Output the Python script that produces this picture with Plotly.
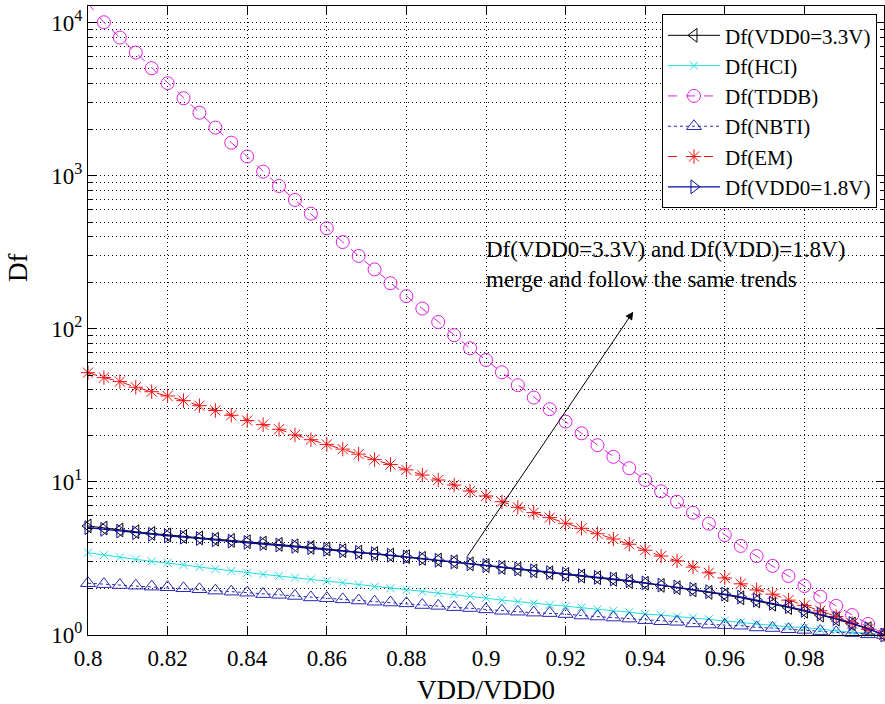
import plotly.graph_objects as go
import math

# ---------------- data ----------------
vdd_ratio = [round(0.8 + 0.004 * i, 3) for i in range(51)]

df_vdd0_33 = [5.16, 5.00, 4.86, 4.73, 4.61, 4.50, 4.40, 4.31, 4.23, 4.15,
              4.07, 3.99, 3.91, 3.83, 3.74, 3.65, 3.56, 3.48, 3.41, 3.33,
              3.25, 3.17, 3.09, 3.01, 2.92, 2.84, 2.76, 2.69, 2.62, 2.55,
              2.49, 2.43, 2.37, 2.31, 2.24, 2.18, 2.11, 2.04, 1.97, 1.90,
              1.83, 1.75, 1.67, 1.59, 1.51, 1.43, 1.35, 1.27, 1.18, 1.10, 1.00]

df_hci = [3.45, 3.33, 3.22, 3.12, 3.03, 2.96, 2.87, 2.78, 2.70, 2.62,
          2.55, 2.49, 2.43, 2.37, 2.31, 2.25, 2.20, 2.13, 2.07, 2.02,
          1.97, 1.92, 1.88, 1.84, 1.80, 1.74, 1.69, 1.65, 1.61, 1.57,
          1.54, 1.51, 1.47, 1.44, 1.41, 1.37, 1.35, 1.32, 1.30, 1.27,
          1.24, 1.21, 1.19, 1.16, 1.13, 1.12, 1.09, 1.07, 1.04, 1.03, 1.00]

df_tddb = [13400, 10100, 8020, 6400, 5060, 4040, 3220, 2590, 2070, 1650,
           1340, 1067, 860, 697, 567, 455, 370, 300, 245, 199,
           164, 136, 111, 91, 74.8, 62.7, 52.1, 42.9, 35.6, 29.9,
           24.8, 20.8, 17.4, 14.6, 12.3, 10.3, 8.69, 7.43, 6.30, 5.34,
           4.50, 3.82, 3.28, 2.83, 2.43, 2.09, 1.78, 1.55, 1.35, 1.18, 1.00]

df_nbti = [2.18, 2.15, 2.12, 2.10, 2.07, 2.05, 2.02, 1.99, 1.95, 1.92,
           1.89, 1.85, 1.83, 1.80, 1.76, 1.74, 1.71, 1.68, 1.65, 1.63,
           1.61, 1.57, 1.55, 1.52, 1.50, 1.47, 1.44, 1.42, 1.40, 1.39,
           1.37, 1.34, 1.32, 1.30, 1.28, 1.25, 1.23, 1.22, 1.19, 1.17,
           1.16, 1.15, 1.12, 1.11, 1.09, 1.08, 1.06, 1.04, 1.03, 1.01, 1.00]

df_em = [51.8, 48.1, 45.3, 41.6, 38.9, 36.5, 34.0, 31.5, 29.3, 27.3,
         25.2, 23.7, 22.1, 20.3, 18.9, 17.6, 16.4, 15.2, 14.0, 13.0,
         12.0, 11.1, 10.3, 9.55, 8.73, 8.10, 7.43, 6.83, 6.31, 5.85,
         5.37, 4.98, 4.59, 4.24, 3.92, 3.58, 3.28, 3.05, 2.78, 2.55,
         2.36, 2.16, 1.97, 1.85, 1.69, 1.56, 1.44, 1.32, 1.19, 1.09, 1.00]

df_vdd0_18 = [5.03, 4.90, 4.78, 4.66, 4.55, 4.45, 4.36, 4.27, 4.19, 4.11,
              4.03, 3.96, 3.88, 3.80, 3.72, 3.63, 3.55, 3.47, 3.40, 3.32,
              3.24, 3.16, 3.08, 3.00, 2.92, 2.84, 2.77, 2.70, 2.63, 2.56,
              2.50, 2.44, 2.38, 2.32, 2.26, 2.19, 2.12, 2.06, 1.99, 1.92,
              1.85, 1.77, 1.69, 1.61, 1.53, 1.45, 1.37, 1.28, 1.19, 1.10, 1.00]

x_ticks = [0.8, 0.82, 0.84, 0.86, 0.88, 0.9, 0.92, 0.94, 0.96, 0.98, 1.0]
x_tick_labels = ["0.8", "0.82", "0.84", "0.86", "0.88", "0.9", "0.92", "0.94", "0.96", "0.98", "1"]
y_ticks = [1, 10, 100, 1000, 10000]
y_tick_labels = ["10<sup>0</sup>", "10<sup>1</sup>", "10<sup>2</sup>", "10<sup>3</sup>", "10<sup>4</sup>"]
y_top = 12900

FONT = "Liberation Serif"
GRID_DASH = "1px,3px"

minor_y = [m * 10 ** k for k in range(0, 5) for m in range(2, 10) if m * 10 ** k < y_top]

fig = go.Figure()

def add(name, y, color, symbol, size, dash, width=1.0, clip=False):
    fig.add_trace(go.Scatter(
        x=vdd_ratio, y=y, name=name, mode="lines+markers",
        line=dict(color=color, width=width, dash=dash),
        marker=dict(symbol=symbol, size=size, color=color,
                    line=dict(color=color, width=1)),
        cliponaxis=clip,
    ))

add("Df(VDD0=3.3V)", df_vdd0_33, "black", "triangle-left-open", 12, "solid")
add("Df(HCI)", df_hci, "#22dede", "x-thin-open", 8, "solid")
add("Df(TDDB)", df_tddb, "#e020e0", "circle-open", 13, "dash", clip=True)
add("Df(NBTI)", df_nbti, "#2828b0", "triangle-up-open", 13, "dot")
add("Df(EM)", df_em, "#ee1111", "asterisk-open", 12, "dash")
add("Df(VDD0=1.8V)", df_vdd0_18, "#0a0a9a", "triangle-right-open", 12, "solid", width=1.4)

fig.update_layout(
    width=885, height=704,
    margin=dict(l=88, r=1, t=6, b=69),
    paper_bgcolor="white", plot_bgcolor="white",
    font=dict(family=FONT, size=22, color="black"),
    showlegend=True,
    legend=dict(
        x=0.9912, y=0.987, xanchor="right", yanchor="top",
        bgcolor="white", bordercolor="black", borderwidth=1,
        font=dict(family=FONT, size=21, color="black"),
        tracegroupgap=0, itemwidth=52,
    ),
    xaxis=dict(
        range=[0.8, 1.0], tickmode="array", tickvals=x_ticks, ticktext=x_tick_labels,
        ticks="inside", ticklen=8, tickcolor="black", mirror="ticks",
        showline=True, linecolor="black", linewidth=1,
        showgrid=True, gridcolor="black", griddash=GRID_DASH, gridwidth=1,
        zeroline=False, ticklabelstandoff=2, automargin=False,
        tickfont=dict(family=FONT, size=23, color="black"),
    ),
    yaxis=dict(
        type="log", range=[0, math.log10(y_top)],
        tickmode="array", tickvals=y_ticks, ticktext=y_tick_labels,
        ticks="inside", ticklen=8, tickcolor="black", mirror="ticks",
        showline=True, linecolor="black", linewidth=1,
        showgrid=True, gridcolor="black", griddash=GRID_DASH, gridwidth=1,
        zeroline=False, automargin=False,
        tickfont=dict(family=FONT, size=23, color="black"),
        minor=dict(tickmode="array", tickvals=minor_y, ticks="inside", ticklen=4,
                   tickcolor="black", showgrid=True, gridcolor="black",
                   griddash=GRID_DASH, gridwidth=1),
    ),
)

# axis labels
fig.add_annotation(text="Df", xref="paper", yref="paper", x=-0.088, y=0.585,
                   textangle=-90, showarrow=False, xanchor="center", yanchor="middle",
                   font=dict(family=FONT, size=27, color="black"))
fig.add_annotation(text="VDD/VDD0", xref="paper", yref="paper", x=0.5, y=-0.0874,
                   showarrow=False, xanchor="center", yanchor="middle",
                   font=dict(family=FONT, size=27, color="black"))

# explanatory note and arrow
fig.add_annotation(text="Df(VDD0=3.3V) and Df(VDD)=1.8V)<br>merge and follow the same trends",
                   xref="x", yref="y", x=0.8995, y=2.42, xanchor="left", yanchor="middle",
                   align="left", showarrow=False,
                   font=dict(family=FONT, size=23, color="black"))
fig.add_annotation(xref="x", yref="y", x=0.937, y=2.113, axref="x", ayref="y",
                   ax=0.895, ay=0.503, text="", showarrow=True,
                   arrowhead=2, arrowsize=1.6, arrowwidth=1, arrowcolor="black", standoff=0)

fig.write_html("out.html", config={"displayModeBar": False},
               post_script="document.body.style.margin='0';document.body.style.overflow='hidden';")
